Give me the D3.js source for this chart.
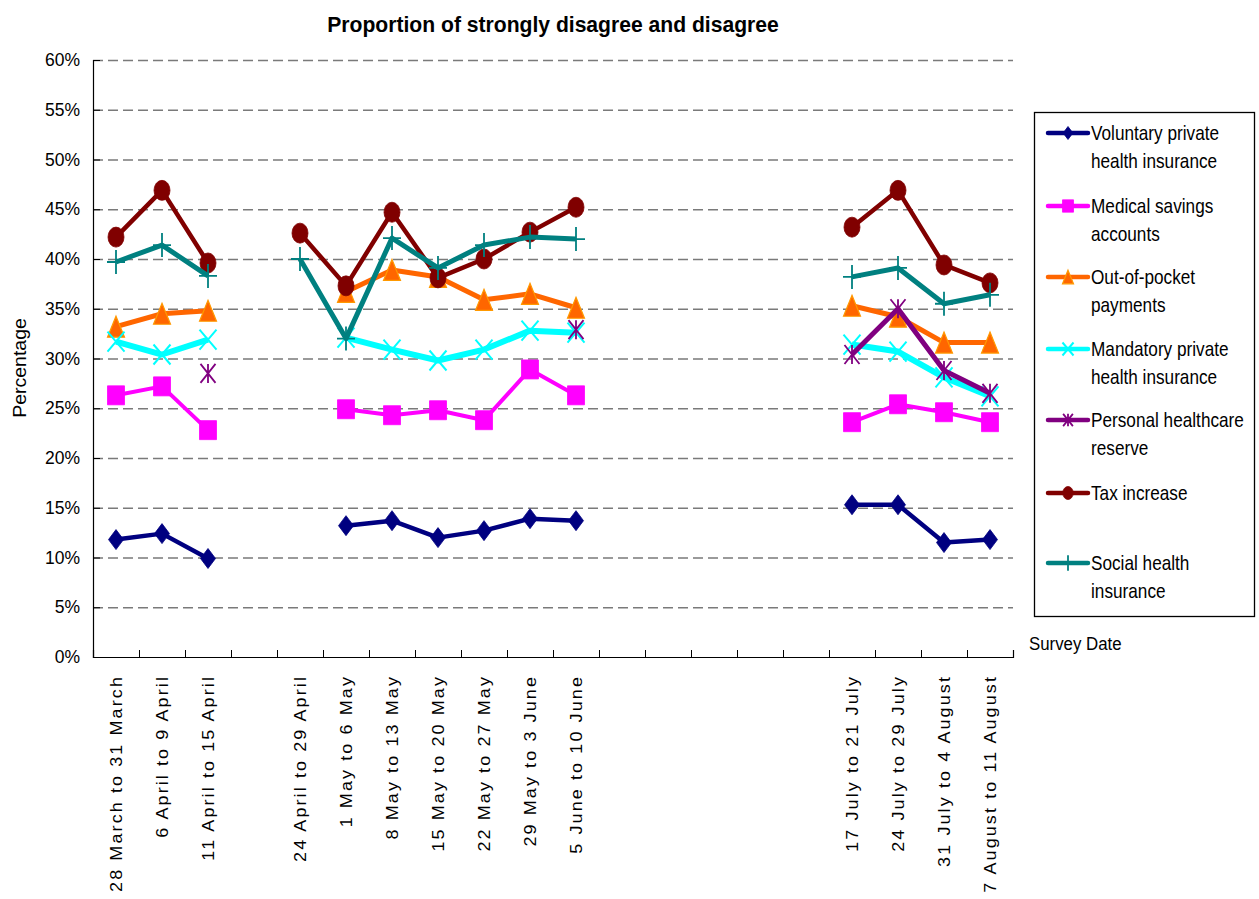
<!DOCTYPE html>
<html>
<head>
<meta charset="utf-8">
<script src="https://cdn.jsdelivr.net/npm/d3@7"></script>
<style>
  html, body { margin: 0; padding: 0; background: #fff; }
  svg { display: block; }
  text { font-family: "Liberation Sans", Arial, Helvetica, sans-serif; fill: #000; }
</style>
</head>
<body>
<svg id="chart" width="1259" height="899"></svg>
<script>
// Survey periods (empty strings are weeks with no survey)
const categories = [
  "28 March to 31 March", "6 April to 9 April", "11 April to 15 April", "",
  "24 April to 29 April", "1 May to 6 May", "8 May to 13 May", "15 May to 20 May",
  "22 May to 27 May", "29 May to 3 June", "5 June to 10 June",
  "", "", "", "", "",
  "17 July to 21 July", "24 July to 29 July", "31 July to 4 August", "7 August to 11 August"
];

const yTicks = [0, 0.05, 0.10, 0.15, 0.20, 0.25, 0.30, 0.35, 0.40, 0.45, 0.50, 0.55, 0.60];

// Percentages per survey period (null = not asked)
const voluntaryPrivate = [11.8, 12.4, 9.9, null, null, 13.2, 13.7, 12.0, 12.7, 13.9, 13.7, null, null, null, null, null, 15.3, 15.3, 11.5, 11.8];
const medicalSavings   = [26.3, 27.2, 22.8, null, null, 24.9, 24.3, 24.8, 23.8, 28.9, 26.3, null, null, null, null, null, 23.6, 25.4, 24.6, 23.6];
const outOfPocket      = [33.2, 34.5, 34.8, null, null, 36.7, 38.9, 38.2, 35.9, 36.5, 35.1, null, null, null, null, null, 35.3, 34.2, 31.6, 31.6];
const mandatoryPrivate = [31.7, 30.4, 31.9, null, null, 32.1, 30.9, 29.8, 30.9, 32.8, 32.6, null, null, null, null, null, 31.4, 30.7, 28.1, 26.2];
const personalReserve  = [null, null, 28.5, null, null, null, null, null, null, null, 32.9, null, null, null, null, null, 30.4, 35.0, 28.8, 26.5];
const taxIncrease      = [42.2, 46.9, 39.6, null, 42.6, 37.3, 44.7, 38.1, 40.0, 42.7, 45.2, null, null, null, null, null, 43.2, 46.9, 39.4, 37.6];
const socialInsurance  = [39.7, 41.4, 38.3, null, 40.0, 32.0, 42.1, 39.1, 41.4, 42.2, 42.0, null, null, null, null, null, 38.2, 39.1, 35.5, 36.4];

const seriesNames = [
  ["Voluntary private", "health insurance"],
  ["Medical savings", "accounts"],
  ["Out-of-pocket", "payments"],
  ["Mandatory private", "health insurance"],
  ["Personal healthcare", "reserve"],
  ["Tax increase"],
  ["Social health", "insurance"]
];

const series = [
  { name: seriesNames[0], values: voluntaryPrivate, color: "#000080", width: 4.5, marker: "diamond" },
  { name: seriesNames[1], values: medicalSavings,   color: "#FF00FF", width: 4,   marker: "square" },
  { name: seriesNames[2], values: outOfPocket,      color: "#FF6600", width: 5,   marker: "triangle" },
  { name: seriesNames[3], values: mandatoryPrivate, color: "#00FFFF", width: 6,   marker: "x" },
  { name: seriesNames[4], values: personalReserve,  color: "#800080", width: 5,   marker: "star" },
  { name: seriesNames[5], values: taxIncrease,      color: "#800000", width: 4.5, marker: "circle" },
  { name: seriesNames[6], values: socialInsurance,  color: "#008080", width: 5,   marker: "plus" }
];

const svg = d3.select("#chart");
svg.append("rect").attr("width", 1259).attr("height", 899).attr("fill", "#fff");

const plot = { left: 93, right: 1013, top: 60, bottom: 657 };

const x = d3.scaleBand()
  .domain(d3.range(categories.length))
  .range([plot.left, plot.right])
  .paddingInner(0).paddingOuter(0);
const xc = i => x(i) + x.bandwidth() / 2;

// boundaries between survey periods for the tick marks
const xEdge = d3.scaleLinear().domain([0, categories.length]).range([plot.left, plot.right]);

const y = d3.scaleLinear().domain([0, 0.6]).range([plot.bottom, plot.top]);

// text helper: squeezes glyphs with a per-label scale
function addText(parent, px, py, str, o) {
  const g = parent.append("g")
    .attr("transform", `translate(${px},${py}) rotate(${o.rotate || 0}) scale(${o.sx || 1},${o.sy || 1})`);
  return g.append("text")
    .attr("text-anchor", o.anchor || "start")
    .attr("font-size", o.size)
    .attr("font-weight", o.weight || "normal")
    .attr("letter-spacing", o.spacing || 0)
    .attr("dy", o.dy || 0)
    .text(str);
}

// dashed gridlines
const grid = svg.append("g").attr("transform", `translate(${plot.left},0)`)
  .call(d3.axisLeft(y).tickValues(yTicks.slice(1)).tickSize(-(plot.right - plot.left)).tickFormat(""));
grid.select(".domain").remove();
grid.selectAll(".tick line").attr("stroke", "#7a7a7a").attr("stroke-width", 1.3).attr("stroke-dasharray", "10,5");

// y axis
const yAxis = svg.append("g").attr("transform", `translate(${plot.left},0)`)
  .call(d3.axisLeft(y).tickValues(yTicks).tickSize(-7).tickPadding(13).tickFormat(d3.format(".0%")));
yAxis.select(".domain").attr("stroke", "#000").attr("stroke-width", 1.2);
yAxis.selectAll(".tick line").attr("stroke", "#000");
yAxis.selectAll(".tick text")
  .attr("font-family", "'Liberation Sans', Arial, sans-serif")
  .attr("font-size", 17.5).attr("fill", "#000");

// x axis (ticks between periods, pointing inward)
const xAxis = svg.append("g").attr("transform", `translate(0,${plot.bottom})`)
  .call(d3.axisBottom(xEdge).tickValues(d3.range(categories.length + 1)).tickSize(-7).tickFormat(""));
xAxis.select(".domain").attr("stroke", "#000").attr("stroke-width", 1.2);
xAxis.selectAll(".tick line").attr("stroke", "#000");

// rotated period labels
const xLabels = svg.append("g");
categories.forEach((c, i) => {
  if (!c) return;
  addText(xLabels, xc(i), 675, c, { rotate: -90, sy: 0.94, size: 18, anchor: "end", spacing: 2.1, dy: "0.36em" });
});

// titles
addText(svg, 553, 32, "Proportion of strongly disagree and disagree", { size: 22, sx: 0.96, weight: "bold", anchor: "middle" });
addText(svg, 20, 368, "Percentage", { rotate: -90, sy: 0.9, size: 19.5, anchor: "middle", dy: "0.35em" });
addText(svg, 1029, 650, "Survey Date", { size: 18.5, sx: 0.91 });

// marker shapes
function markerPath(type, w, h) {
  const a = w / 2, b = h / 2;
  switch (type) {
    case "diamond":  return `M0,${-b}L${a},0L0,${b}L${-a},0Z`;
    case "square":   return `M${-a},${-b}H${a}V${b}H${-a}Z`;
    case "triangle": return `M0,${-b}L${a},${b}L${-a},${b}Z`;
    case "circle":   return `M${-a},0A${a},${b} 0 1,0 ${a},0A${a},${b} 0 1,0 ${-a},0Z`;
    case "x":        return `M${-a},${-b}L${a},${b}M${-a},${b}L${a},${-b}`;
    case "star":     return `M${-a},${-b}L${a},${b}M${-a},${b}L${a},${-b}M0,${-b}V${b}`;
    case "plus":     return `M${-a},0H${a}M0,${-b}V${b}`;
  }
}
const markerSize = {
  diamond: [15, 20], square: [17, 19], triangle: [17, 21], circle: [16, 20],
  x: [17, 20], star: [15, 19], plus: [18, 24]
};
function drawMarker(g, s, px, py, k) {
  const [w, h] = markerSize[s.marker];
  const p = g.append("path")
    .attr("transform", `translate(${px},${py})`)
    .attr("d", markerPath(s.marker, w * k, h * k));
  if (s.marker === "x" || s.marker === "star" || s.marker === "plus") {
    p.attr("fill", "none").attr("stroke", s.color).attr("stroke-width", s.marker === "x" ? 2 : 1.8);
  } else if (s.marker === "triangle") {
    p.attr("fill", s.color).attr("stroke", "#FF9900").attr("stroke-width", 1.2);
  } else {
    p.attr("fill", s.color).attr("stroke", s.color).attr("stroke-width", 0.8);
  }
}

// lines with gaps where a period has no value
const line = d3.line()
  .defined(d => d.v != null)
  .x(d => xc(d.i))
  .y(d => y(d.v / 100));

const marks = svg.append("g");
series.forEach(s => {
  const pts = s.values.map((v, i) => ({ i, v }));
  const g = marks.append("g");
  g.append("path")
    .attr("d", line(pts))
    .attr("fill", "none")
    .attr("stroke", s.color)
    .attr("stroke-width", s.width)
    .attr("stroke-linejoin", "round");
  pts.filter(d => d.v != null).forEach(d => drawMarker(g, s, xc(d.i), y(d.v / 100), 1));
});

// legend
const legend = svg.append("g");
legend.append("rect")
  .attr("x", 1034.5).attr("y", 112.5).attr("width", 220).attr("height", 504)
  .attr("fill", "#fff").attr("stroke", "#000").attr("stroke-width", 1.3);
const rowY = [133, 206, 277, 349, 420, 493, 563];
series.forEach((s, k) => {
  const cy = rowY[k];
  legend.append("line")
    .attr("x1", 1048).attr("x2", 1088).attr("y1", cy).attr("y2", cy)
    .attr("stroke", s.color).attr("stroke-width", 4.5).attr("stroke-linecap", "round");
  drawMarker(legend, s, 1068, cy, 0.65);
  s.name.forEach((ln, j) => {
    addText(legend, 1091, cy + 7 + j * 27.5, ln, { size: 20, sx: 0.86 });
  });
});
</script>
</body>
</html>
